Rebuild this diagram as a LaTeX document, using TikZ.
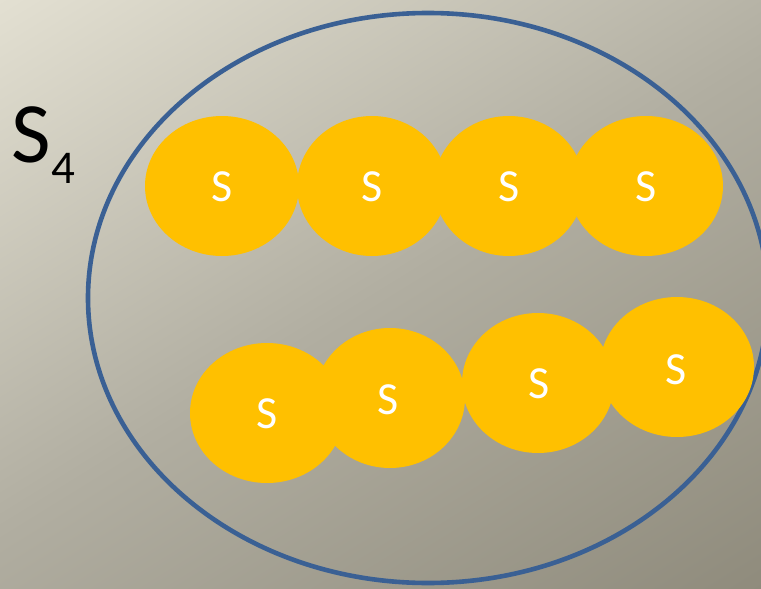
\documentclass[tikz,border=0pt]{standalone}
\usepackage{fontspec}
\setmainfont{Carlito}
\definecolor{bgA}{RGB}{227,224,210}
\definecolor{bgM}{RGB}{177,174,161}
\definecolor{bgB}{RGB}{143,139,124}
\definecolor{ringblue}{RGB}{58,96,148}
\definecolor{gold}{RGB}{255,192,0}
\pgfdeclarehorizontalshading{bgsh}{1100bp}{color(0bp)=(bgA); color(450bp)=(bgM); color(901bp)=(bgB)}
\begin{document}
\begin{tikzpicture}[x=1pt,y=-1pt,
  sball/.style={fill=gold},
  slabel/.style={text=white,font=\fontsize{46}{46}\selectfont,inner sep=0}]
\useasboundingbox (0,0) rectangle (761,589);
\begin{scope}
\clip (0,0) rectangle (761,589);
\pgftransformshift{\pgfpointxy{380.5}{294.5}}
\pgftransformrotate{-58.3}
\pgflowlevelsynccm
\pgfuseshading{bgsh}
\end{scope}
\draw[ringblue, line width=4.6pt] (428,298) ellipse [x radius=340, y radius=285];
% top row
\fill[sball] (222,186) ellipse [x radius=77, y radius=70];
\fill[sball] (372,186) ellipse [x radius=75, y radius=70];
\fill[sball] (509,186) ellipse [x radius=75, y radius=70];
\fill[sball] (646,186) ellipse [x radius=77, y radius=70];
% bottom row
\fill[sball] (267,413) ellipse [x radius=77, y radius=70];
\fill[sball] (390,398) ellipse [x radius=75, y radius=70];
\fill[sball] (538,383) ellipse [x radius=76, y radius=70];
\fill[sball] (677,367) ellipse [x radius=77, y radius=70];
\node[slabel] (t1) at (222,187) {S};
\node[slabel] (t2) at (372,187) {S};
\node[slabel] (t3) at (509,187) {S};
\node[slabel] (t4) at (646,187) {S};
\node[slabel] (b1) at (267,414) {S};
\node[slabel] (b2) at (388,400) {S};
\node[slabel] (b3) at (539,384) {S};
\node[slabel] (b4) at (676,370) {S};
\node[anchor=base west, inner sep=0, font=\fontsize{86}{86}\selectfont] (s4) at (11,162) {S};
\node[anchor=base west, inner sep=0, font=\fontsize{47}{47}\selectfont] (sub) at (51,183) {4};
\end{tikzpicture}
\end{document}
